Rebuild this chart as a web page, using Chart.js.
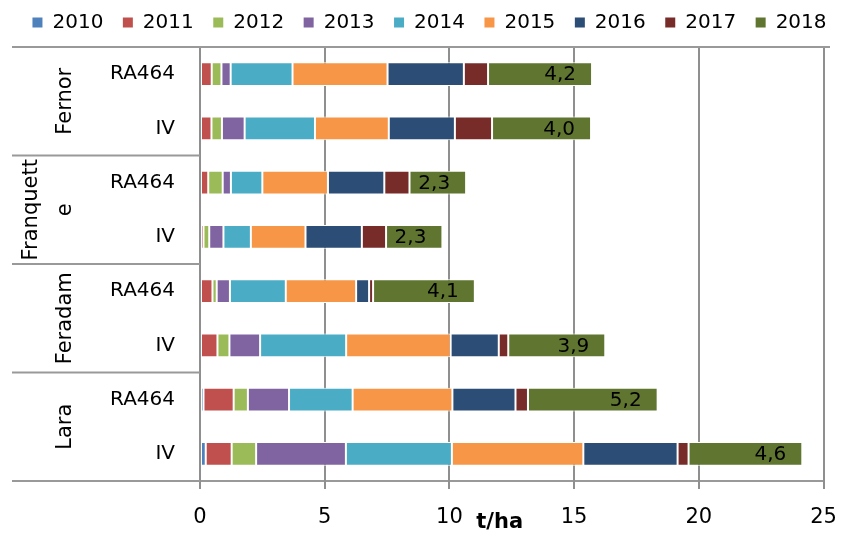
<!DOCTYPE html>
<html><head><meta charset="utf-8">
<script src="https://cdn.jsdelivr.net/npm/chart.js@4"></script>
<style>html,body{margin:0;padding:0;background:#fff}#wrap{width:847px;height:534px}</style>
</head><body><div id="wrap"><canvas id="c" width="847" height="534"></canvas></div>
<script>
// ---- data ----
const categories = ['RA464','IV','RA464','IV','RA464','IV','RA464','IV'];
const groupLines = [['Fernor'],['Franquett','e'],['Feradam'],['Lara']];
const years = ['2010','2011','2012','2013','2014','2015','2016','2017','2018'];
const v2010 = [0, 0, 0, 0, 0, 0, 0.14, 0.23];
const v2011 = [0.47, 0.46, 0.33, 0.14, 0.50, 0.70, 1.21, 1.04];
const v2012 = [0.39, 0.42, 0.58, 0.23, 0.17, 0.48, 0.57, 0.98];
const v2013 = [0.37, 0.91, 0.33, 0.57, 0.53, 1.23, 1.65, 3.60];
const v2014 = [2.48, 2.82, 1.26, 1.10, 2.24, 3.45, 2.55, 4.25];
const v2015 = [3.81, 2.96, 2.63, 2.19, 2.82, 4.19, 4.00, 5.27];
const v2016 = [3.06, 2.65, 2.26, 2.26, 0.52, 1.93, 2.53, 3.78];
const v2017 = [0.97, 1.49, 1.01, 0.97, 0.16, 0.38, 0.50, 0.44];
const v2018 = [4.17, 3.97, 2.27, 2.26, 4.08, 3.89, 5.20, 4.56];
const xTicks = [0, 5, 10, 15, 20, 25];
const axisTitle = 't/ha';

const colors = ['#4F81BD','#C0504D','#9BBB59','#8064A2','#4BACC6','#F79646','#2C4D75','#772C2A','#5F7530'];
const seriesValues = [v2010,v2011,v2012,v2013,v2014,v2015,v2016,v2017,v2018];
const FONT = "'DejaVu Sans'";
const GRID = '#999999';

const datasets = years.map((y,i)=>({
  label: y, data: seriesValues[i], backgroundColor: colors[i],
  borderColor: '#ffffff', borderWidth: 1, borderSkipped: false,
  barPercentage: 0.44, categoryPercentage: 1
}));

const decor = {
  id: 'decor',
  beforeDatasetsDraw(chart){
    const {ctx, chartArea: a, scales: {x}} = chart;
    ctx.save();
    ctx.fillStyle = '#8f8f8f';
    xTicks.forEach(v=>{
      const px = Math.round(x.getPixelForValue(v));
      ctx.fillRect(px - 1, a.top, 2, a.bottom - a.top + 8);
    });
    ctx.restore();
  },
  afterDatasetsDraw(chart){
    const {ctx} = chart;
    const idx = years.length - 1;
    const meta = chart.getDatasetMeta(idx);
    ctx.save();
    ctx.fillStyle = '#000';
    ctx.font = '20px ' + FONT;
    ctx.textAlign = 'right'; ctx.textBaseline = 'middle';
    meta.data.forEach((el, i)=>{
      const t = seriesValues[idx][i].toFixed(1).replace('.', ',');
      ctx.fillText(t, el.x - 16, el.y + 1);
    });
    ctx.restore();
  },
  afterDraw(chart){
    const {ctx, chartArea: a, scales: {y}} = chart;
    ctx.save();
    ctx.strokeStyle = GRID; ctx.lineWidth = 2;
    const ln = (x1,y1,x2,y2)=>{ctx.beginPath();ctx.moveTo(x1,y1);ctx.lineTo(x2,y2);ctx.stroke();};
    ln(12, a.top, 830, a.top);
    const mid = (i)=> (y.getPixelForValue(i) + y.getPixelForValue(i+1))/2;
    const bounds = [a.top, mid(1), mid(3), mid(5), a.bottom];
    bounds.forEach(b=>ln(12, b, a.left, b));
    // group labels
    ctx.fillStyle = '#000';
    ctx.font = '21px ' + FONT;
    ctx.textAlign = 'center'; ctx.textBaseline = 'alphabetic';
    groupLines.forEach((lines, g)=>{
      const yc = (bounds[g] + bounds[g+1]) / 2;
      const n = lines.length;
      lines.forEach((t, k)=>{
        const xb = 71 - 34*(n-1-k);
        ctx.save(); ctx.translate(xb, yc); ctx.rotate(-Math.PI/2);
        ctx.fillText(t, 0, 0); ctx.restore();
      });
    });
    // axis title
    ctx.font = 'bold 21px ' + FONT;
    ctx.textAlign = 'center'; ctx.textBaseline = 'middle';
    ctx.fillText(axisTitle, (a.left + a.right)/2 - 12, a.bottom + 42);
    ctx.restore();
  }
};

new Chart(document.getElementById('c'), {
  type: 'bar',
  data: { labels: categories, datasets },
  options: {
    indexAxis: 'y',
    responsive: false,
    animation: false,
    layout: { padding: { left: 12, right: 0, top: -7, bottom: 0 } },
    plugins: {
      legend: {
        position: 'top', weight: 3000,
        labels: {
          font: { family: FONT, size: 20 }, color: '#000',
          boxWidth: 10, boxHeight: 10, padding: 19.5,
          generateLabels: (chart)=> Chart.defaults.plugins.legend.labels.generateLabels(chart)
            .map(l=>({...l, lineWidth: 0, strokeStyle: 'rgba(0,0,0,0)'}))
        }
      },
      title: {
        display: true, text: ' ', position: 'top',
        font: { size: 2, lineHeight: 1 }, padding: { top: 1.5, bottom: 1 }
      },
      tooltip: { enabled: false }
    },
    scales: {
      x: {
        stacked: true, min: 0, max: 25,
        afterBuildTicks: (s)=>{ s.ticks = xTicks.map(v=>({value: v})); },
        afterFit: (s)=>{ s.height = 53; s.paddingRight = 23.5; s.paddingLeft = 0; },
        grid: { display: true, drawOnChartArea: true, color: GRID, lineWidth: 2, tickLength: 8, tickColor: GRID },
        border: { display: true, color: GRID, width: 2 },
        ticks: { font: { family: FONT, size: 21 }, color: '#000', padding: 16, maxRotation: 0 }
      },
      y: {
        stacked: true,
        afterFit: (s)=>{ s.width = 188; },
        grid: { display: false, drawTicks: false },
        border: { display: true, color: GRID, width: 2 },
        ticks: { font: { family: FONT, size: 20 }, color: '#000', padding: 25 }
      }
    }
  },
  plugins: [decor]
});
</script>
</body></html>
